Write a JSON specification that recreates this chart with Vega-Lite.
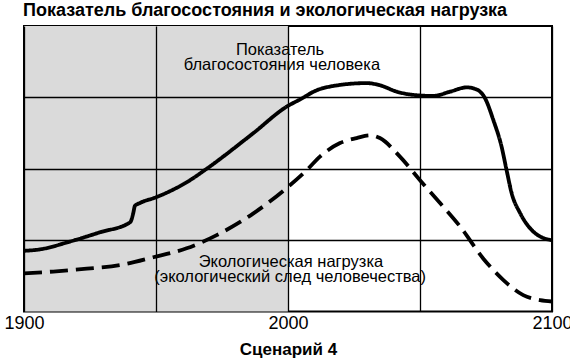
{
  "$schema": "https://vega.github.io/schema/vega-lite/v6.json",
  "width": 528,
  "height": 285.5,
  "autosize": {"type": "none"},
  "padding": {"left": 24, "top": 26, "right": 18, "bottom": 51.5},
  "background": "white",
  "config": {
    "view": {"stroke": "black", "strokeWidth": 2},
    "font": "Liberation Sans"
  },
  "title": {
    "text": "Показатель благосостояния и экологическая нагрузка",
    "anchor": "start",
    "frame": "group",
    "baseline": "alphabetic",
    "offset": -8,
    "dx": -1,
    "font": "Liberation Sans",
    "fontSize": 18,
    "fontWeight": "bold",
    "color": "black"
  },
  "datasets": {
    "bg": [{"year": 1900, "year2": 2000}],
    "lines": [
      {"series": "welfare", "year": 1900, "value": 0.85},
      {"series": "welfare", "year": 1906, "value": 0.87},
      {"series": "welfare", "year": 1917.4, "value": 0.98},
      {"series": "welfare", "year": 1928.8, "value": 1.11},
      {"series": "welfare", "year": 1940.2, "value": 1.25},
      {"series": "welfare", "year": 1941.4, "value": 1.38},
      {"series": "welfare", "year": 1942, "value": 1.48},
      {"series": "welfare", "year": 1943.9, "value": 1.52},
      {"series": "welfare", "year": 1950, "value": 1.6},
      {"series": "welfare", "year": 1962.9, "value": 1.84},
      {"series": "welfare", "year": 1969.2, "value": 2.0},
      {"series": "welfare", "year": 1986.9, "value": 2.5},
      {"series": "welfare", "year": 1999.5, "value": 2.87},
      {"series": "welfare", "year": 2004.5, "value": 2.97},
      {"series": "welfare", "year": 2010.9, "value": 3.1},
      {"series": "welfare", "year": 2017.2, "value": 3.16},
      {"series": "welfare", "year": 2029.8, "value": 3.2},
      {"series": "welfare", "year": 2034.8, "value": 3.17},
      {"series": "welfare", "year": 2041.2, "value": 3.08},
      {"series": "welfare", "year": 2048.7, "value": 3.03},
      {"series": "welfare", "year": 2055, "value": 3.02},
      {"series": "welfare", "year": 2061.4, "value": 3.08},
      {"series": "welfare", "year": 2067.7, "value": 3.14},
      {"series": "welfare", "year": 2071.5, "value": 3.11},
      {"series": "welfare", "year": 2074.6, "value": 2.99},
      {"series": "welfare", "year": 2077.8, "value": 2.68},
      {"series": "welfare", "year": 2080.9, "value": 2.31},
      {"series": "welfare", "year": 2082.8, "value": 1.98},
      {"series": "welfare", "year": 2084.7, "value": 1.66},
      {"series": "welfare", "year": 2087.9, "value": 1.38},
      {"series": "welfare", "year": 2092.9, "value": 1.12},
      {"series": "welfare", "year": 2096.7, "value": 1.03},
      {"series": "welfare", "year": 2100, "value": 1.0},
      {"series": "footprint", "year": 1900, "value": 0.535},
      {"series": "footprint", "year": 1911.1, "value": 0.56},
      {"series": "footprint", "year": 1923.8, "value": 0.6},
      {"series": "footprint", "year": 1936.4, "value": 0.65},
      {"series": "footprint", "year": 1949, "value": 0.76},
      {"series": "footprint", "year": 1961.6, "value": 0.885},
      {"series": "footprint", "year": 1973, "value": 1.07},
      {"series": "footprint", "year": 1986.9, "value": 1.375},
      {"series": "footprint", "year": 1999.5, "value": 1.73},
      {"series": "footprint", "year": 2007.1, "value": 1.98},
      {"series": "footprint", "year": 2012.1, "value": 2.17},
      {"series": "footprint", "year": 2019.7, "value": 2.36},
      {"series": "footprint", "year": 2026, "value": 2.43},
      {"series": "footprint", "year": 2031.1, "value": 2.47},
      {"series": "footprint", "year": 2034.8, "value": 2.43},
      {"series": "footprint", "year": 2042.4, "value": 2.17},
      {"series": "footprint", "year": 2050, "value": 1.84},
      {"series": "footprint", "year": 2057.6, "value": 1.52},
      {"series": "footprint", "year": 2065.2, "value": 1.19},
      {"series": "footprint", "year": 2074, "value": 0.74},
      {"series": "footprint", "year": 2081.6, "value": 0.44},
      {"series": "footprint", "year": 2089.1, "value": 0.23},
      {"series": "footprint", "year": 2095.5, "value": 0.16},
      {"series": "footprint", "year": 2100, "value": 0.14}
    ],
    "labels": [
      {"year": 1997.0, "value": 3.59, "label": "Показатель"},
      {"year": 1997.7, "value": 3.38, "label": "благосостояния человека"},
      {"year": 2001.1, "value": 0.627, "label": "Экологическая нагрузка"},
      {"year": 2000.8, "value": 0.417, "label": "(экологический след человечества)"}
    ]
  },
  "layer": [
    {
      "data": {"name": "bg"},
      "mark": {"type": "rect", "color": "#dadada"},
      "encoding": {
        "x": {
          "field": "year", "type": "quantitative",
          "scale": {"domain": [1900, 2100], "nice": false, "zero": false},
          "axis": {
            "values": [1900, 1950, 2000, 2050, 2100],
            "labelExpr": "datum.value % 100 == 0 ? datum.value : ''",
            "grid": true, "gridColor": "black", "gridWidth": 1.3, "gridOpacity": 1,
            "ticks": false, "domain": false,
            "labelFont": "Liberation Sans", "labelFontSize": 18, "labelColor": "black",
            "labelPadding": 3, "labelFlush": false,
            "title": "Сценарий 4", "titleFont": "Liberation Sans", "titleFontSize": 17,
            "titleFontWeight": "bold", "titleColor": "black", "titlePadding": 9,
            "zindex": 1
          }
        },
        "x2": {"field": "year2"},
        "y": {
          "datum": 0, "type": "quantitative",
          "scale": {"domain": [0, 4], "nice": false},
          "axis": {
            "values": [1, 2, 3], "grid": true, "gridColor": "black", "gridWidth": 1.3, "gridOpacity": 1,
            "labels": false, "ticks": false, "domain": false, "title": null, "zindex": 1
          }
        },
        "y2": {"datum": 4}
      }
    },
    {
      "data": {"name": "lines"},
      "mark": {"type": "line", "color": "black", "strokeWidth": 3.8, "interpolate": "monotone", "strokeCap": "butt"},
      "encoding": {
        "x": {"field": "year", "type": "quantitative"},
        "y": {"field": "value", "type": "quantitative"},
        "strokeDash": {
          "field": "series", "type": "nominal",
          "scale": {"domain": ["welfare", "footprint"], "range": [[1, 0], [18, 8]]},
          "legend": null
        }
      }
    },
    {
      "data": {"name": "labels"},
      "mark": {"type": "text", "font": "Liberation Sans", "fontSize": 16.5, "color": "black", "align": "center", "baseline": "alphabetic"},
      "encoding": {
        "x": {"field": "year", "type": "quantitative"},
        "y": {"field": "value", "type": "quantitative"},
        "text": {"field": "label"}
      }
    }
  ]
}
